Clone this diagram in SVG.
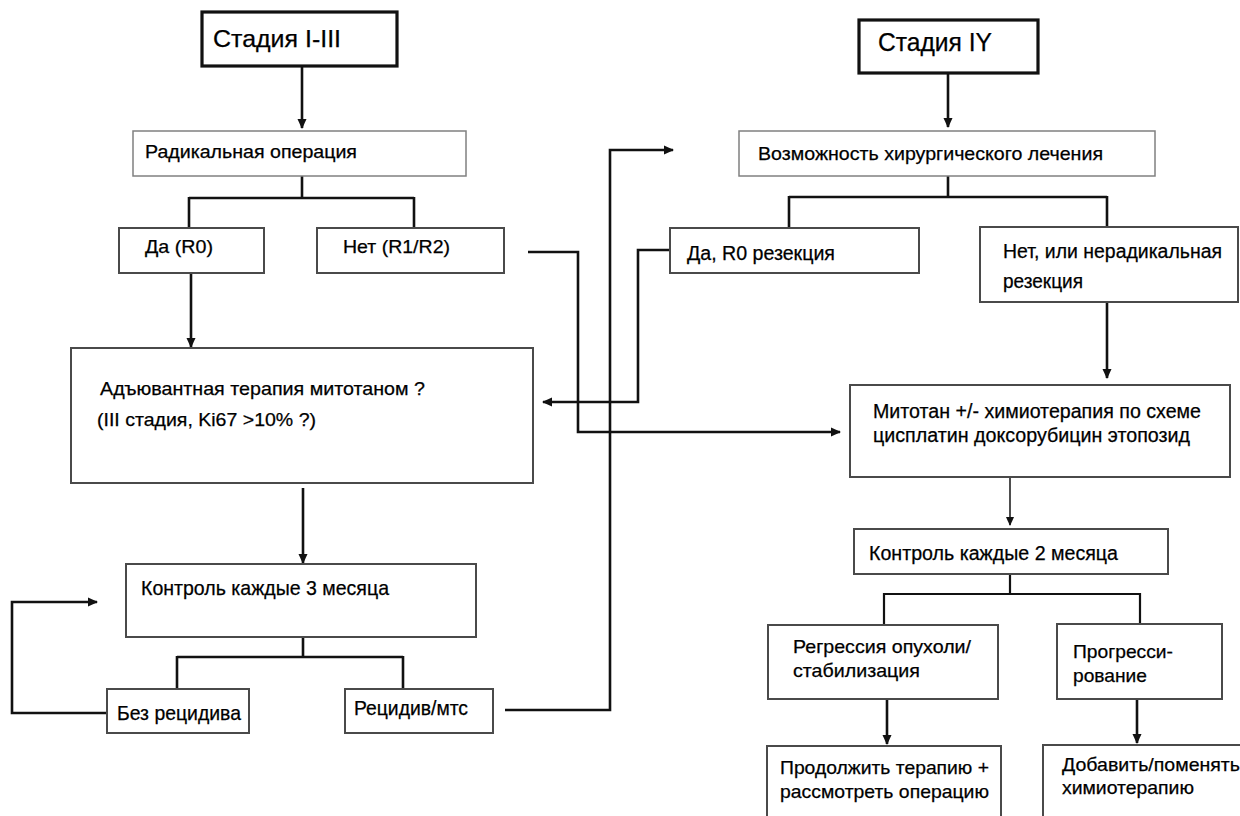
<svg xmlns="http://www.w3.org/2000/svg" width="1240" height="816" viewBox="0 0 1240 816">
<style>
.bg{fill:#ffffff}
.box{fill:#ffffff;stroke:#4a4a4a;stroke-width:2}
.lite{fill:#ffffff;stroke:#808080;stroke-width:1.5}
.thick{fill:#ffffff;stroke:#111111;stroke-width:3.2}
.t{font-family:"Liberation Sans",Arial,sans-serif;fill:#000000;stroke:#000000;stroke-width:0.25}
.c{fill:none;stroke:#111111;stroke-width:2.6}
.cthin{fill:none;stroke:#222222;stroke-width:1.6}
</style>
<defs>
<marker id="ah" markerWidth="10" markerHeight="10" refX="9" refY="5" orient="auto" markerUnits="userSpaceOnUse">
<path d="M0,0.5 L10,5 L0,9.5 z" fill="#111111"/>
</marker>
<marker id="ahs" markerWidth="9" markerHeight="9" refX="8" refY="4.5" orient="auto" markerUnits="userSpaceOnUse">
<path d="M0,0.5 L9,4.5 L0,8.5 z" fill="#111111"/>
</marker>
</defs>
<rect class="bg" x="0" y="0" width="1240" height="816"/>

<g id="connectors">
<path class="c" d="M302,66 V128" marker-end="url(#ah)"/>
<path class="c" d="M302,176 V198 M189,198 H414 M189,197 V228 M414,197 V228"/>
<path class="c" d="M191,273 V347" marker-end="url(#ah)"/>
<path class="c" d="M303,488 V563" marker-end="url(#ah)"/>
<path class="c" d="M303,637 V657 M177,657 H403 M177,656 V689 M403,656 V689"/>
<path class="c" d="M107,713 H12 V602 H97" marker-end="url(#ah)"/>
<path class="c" d="M505,710 H610 V150 H673" marker-end="url(#ah)"/>
<path class="c" d="M528,252 H578 V432 H840" marker-end="url(#ah)"/>
<path class="c" d="M670,250 H638 V402 H543" marker-end="url(#ah)"/>
<path class="c" d="M948,73 V127" marker-end="url(#ah)"/>
<path class="c" d="M948,176 V197 M789,197 H1107 M789,196 V228 M1107,196 V227"/>
<path class="c" d="M1107,302 V378" marker-end="url(#ah)"/>
<path class="cthin" d="M1010,477 V525" marker-end="url(#ahs)"/>
<path class="c" style="stroke-width:2.2" d="M1010,574 V594 M884,594 H1140 M884,593 V625 M1140,593 V624"/>
<path class="c" d="M887,699 V744" marker-end="url(#ah)"/>
<path class="c" d="M1137,699 V743" marker-end="url(#ah)"/>
</g>

<g id="n1"><rect class="thick" x="202" y="12" width="195" height="54"/>
<text class="t" x="213" y="47" font-size="24" textLength="128" lengthAdjust="spacingAndGlyphs">Стадия I-III</text></g>

<g id="n2"><rect class="lite" x="133" y="131" width="333" height="45"/>
<text class="t" x="145" y="158" font-size="17.5" textLength="212" lengthAdjust="spacingAndGlyphs">Радикальная операция</text></g>

<g id="n3"><rect class="box" x="119" y="228" width="145" height="45"/>
<text class="t" x="145" y="253" font-size="18.5" textLength="68" lengthAdjust="spacingAndGlyphs">Да (R0)</text></g>

<g id="n4"><rect class="box" x="317" y="228" width="187" height="45"/>
<text class="t" x="343" y="253" font-size="18.5" textLength="107" lengthAdjust="spacingAndGlyphs">Нет (R1/R2)</text></g>

<g id="n5"><rect class="box" x="71" y="348" width="462" height="135"/>
<text class="t" x="100" y="395" font-size="19" textLength="325" lengthAdjust="spacingAndGlyphs">Адъювантная терапия митотаном ?</text>
<text class="t" x="97" y="426" font-size="19" textLength="219" lengthAdjust="spacingAndGlyphs">(III стадия, Ki67 &gt;10% ?)</text></g>

<g id="n6"><rect class="box" x="126" y="564" width="350" height="73"/>
<text class="t" x="141" y="595" font-size="21" textLength="248" lengthAdjust="spacingAndGlyphs">Контроль каждые 3 месяца</text></g>

<g id="n7"><rect class="box" x="107" y="689" width="142" height="44"/>
<text class="t" x="117" y="720" font-size="21" textLength="124" lengthAdjust="spacingAndGlyphs">Без рецидива</text></g>

<g id="n8"><rect class="box" x="345" y="689" width="148" height="44"/>
<text class="t" x="354" y="715" font-size="20" textLength="114" lengthAdjust="spacingAndGlyphs">Рецидив/мтс</text></g>

<g id="n9"><rect class="thick" x="859" y="20" width="179" height="53"/>
<text class="t" x="878" y="51" font-size="26" textLength="114" lengthAdjust="spacingAndGlyphs">Стадия IY</text></g>

<g id="n10"><rect class="lite" x="739" y="131" width="416" height="45"/>
<text class="t" x="758" y="160" font-size="19" textLength="345" lengthAdjust="spacingAndGlyphs">Возможность хирургического лечения</text></g>

<g id="n11"><rect class="box" x="670" y="228" width="249" height="45"/>
<text class="t" x="687" y="260" font-size="20" textLength="148" lengthAdjust="spacingAndGlyphs">Да, R0 резекция</text></g>

<g id="n12"><rect class="box" x="980" y="227" width="258" height="75"/>
<text class="t" x="1003" y="258" font-size="20" textLength="219" lengthAdjust="spacingAndGlyphs">Нет, или нерадикальная</text>
<text class="t" x="1003" y="288" font-size="20" textLength="80" lengthAdjust="spacingAndGlyphs">резекция</text></g>

<g id="n13"><rect class="box" x="850" y="385" width="380" height="92"/>
<text class="t" x="873" y="418" font-size="20" textLength="328" lengthAdjust="spacingAndGlyphs">Митотан +/- химиотерапия по схеме</text>
<text class="t" x="873" y="442" font-size="20" textLength="317" lengthAdjust="spacingAndGlyphs">цисплатин доксорубицин этопозид</text></g>

<g id="n14"><rect class="box" x="854" y="529" width="314" height="45"/>
<text class="t" x="869" y="560" font-size="20" textLength="249" lengthAdjust="spacingAndGlyphs">Контроль каждые 2 месяца</text></g>

<g id="n15"><rect class="box" x="768" y="625" width="230" height="74"/>
<text class="t" x="793" y="653" font-size="18.5" textLength="178" lengthAdjust="spacingAndGlyphs">Регрессия опухоли/</text>
<text class="t" x="793" y="677" font-size="18.5" textLength="127" lengthAdjust="spacingAndGlyphs">стабилизация</text></g>

<g id="n16"><rect class="box" x="1057" y="624" width="165" height="75"/>
<text class="t" x="1073" y="658" font-size="18.5" textLength="100" lengthAdjust="spacingAndGlyphs">Прогресси-</text>
<text class="t" x="1073" y="682" font-size="18.5" textLength="74" lengthAdjust="spacingAndGlyphs">рование</text></g>

<g id="n17"><rect class="box" x="767" y="746" width="234" height="90"/>
<text class="t" x="780" y="774" font-size="19" textLength="209" lengthAdjust="spacingAndGlyphs">Продолжить терапию +</text>
<text class="t" x="780" y="798" font-size="19" textLength="209" lengthAdjust="spacingAndGlyphs">рассмотреть операцию</text></g>

<g id="n18"><rect class="box" x="1043" y="745" width="210" height="90"/>
<text class="t" x="1062" y="771" font-size="19" textLength="178" lengthAdjust="spacingAndGlyphs">Добавить/поменять</text>
<text class="t" x="1062" y="794" font-size="19" textLength="132" lengthAdjust="spacingAndGlyphs">химиотерапию</text></g>
</svg>
